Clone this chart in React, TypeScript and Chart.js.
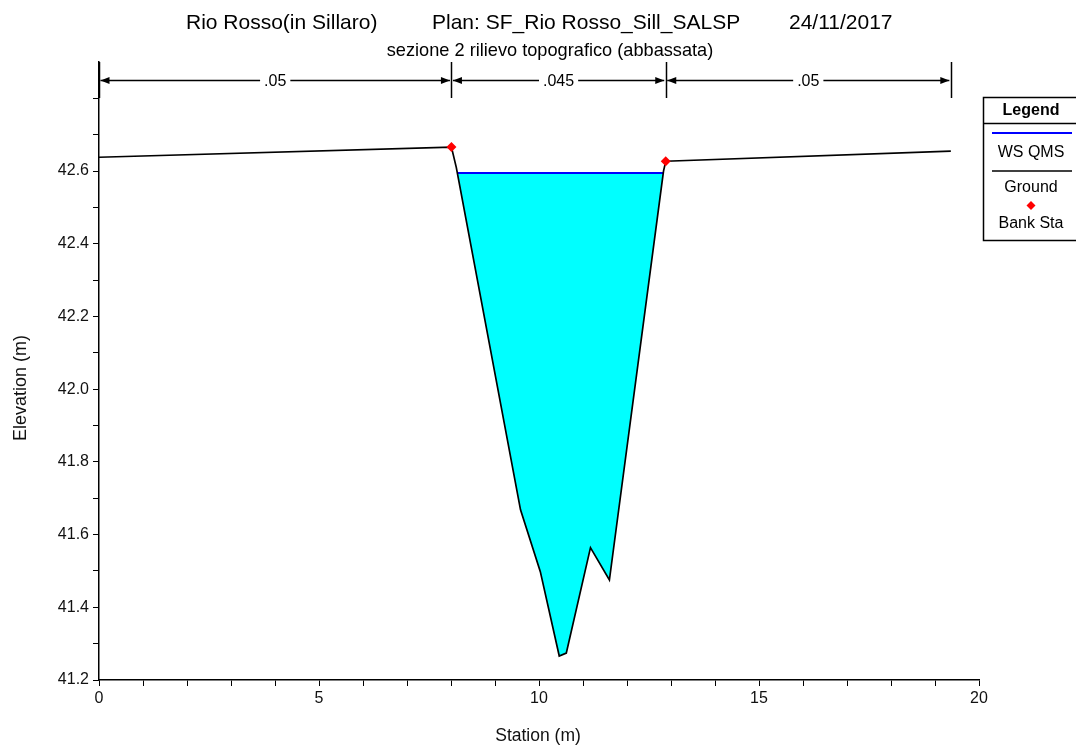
import React, { useEffect, useRef } from 'react';
import { Chart, registerables } from 'chart.js';

Chart.register(...registerables);

// Cross-section ground profile (station m, elevation m)
const groundStation = [0, 8.01, 8.12, 9.58, 10.03, 10.46, 10.62, 11.17, 11.6, 12.83, 12.88, 19.36];
const groundElev = [42.638, 42.666, 42.61, 41.668, 41.498, 41.266, 41.274, 41.564, 41.475, 42.6, 42.627, 42.655];

// Left and right bank stations
const bankStations = [8.01, 12.88];

// Water surface elevation for profile QMS
const wsElev = 42.595;

// Manning's n values for left overbank, channel, right overbank
const nValues = ['.05', '.045', '.05'];

const titleParts = ['Rio Rosso(in Sillaro)', 'Plan: SF_Rio Rosso_Sill_SALSP', '24/11/2017'];
const subtitle = 'sezione 2 rilievo topografico (abbassata)';
const legendLabels = ['WS QMS', 'Ground', 'Bank Sta'];
const xAxisTitle = 'Station (m)';
const yAxisTitle = 'Elevation (m)';

const xMin = 0;
const xMax = 20;
const yMin = 41.2;
const yMax = 42.9;
const yLabelTop = 42.6;

const FONT = "'Liberation Sans', Arial, Helvetica, sans-serif";

function groundAt(s: number): number {
  for (let i = 0; i < groundStation.length - 1; i++) {
    const a = groundStation[i];
    const b = groundStation[i + 1];
    if (s >= a && s <= b) {
      const t = b === a ? 0 : (s - a) / (b - a);
      return groundElev[i] + t * (groundElev[i + 1] - groundElev[i]);
    }
  }
  return groundElev[groundElev.length - 1];
}

// Wetted part of the section: ground below the water surface, closed at the water edges
function wetPolygon() {
  let iMin = 0;
  groundElev.forEach((e, i) => {
    if (e < groundElev[iMin]) iMin = i;
  });
  let l = iMin;
  while (l > 0 && groundElev[l - 1] < wsElev) l--;
  let r = iMin;
  while (r < groundElev.length - 1 && groundElev[r + 1] < wsElev) r++;
  const cross = (a: number, b: number) => {
    const t = (wsElev - groundElev[a]) / (groundElev[b] - groundElev[a]);
    return groundStation[a] + t * (groundStation[b] - groundStation[a]);
  };
  const pts = [{ x: cross(l - 1, l), y: wsElev }];
  for (let i = l; i <= r; i++) pts.push({ x: groundStation[i], y: groundElev[i] });
  pts.push({ x: cross(r, r + 1), y: wsElev });
  return pts;
}

function arrowHead(ctx: CanvasRenderingContext2D, x: number, y: number, dir: number) {
  ctx.beginPath();
  ctx.moveTo(x, y);
  ctx.lineTo(x + dir * 9, y - 3.5);
  ctx.lineTo(x + dir * 9, y + 3.5);
  ctx.closePath();
  ctx.fill();
}

const decorPlugin = {
  id: 'sectionDecor',
  afterDraw(chart: any) {
    const ctx: CanvasRenderingContext2D = chart.ctx;
    const area = chart.chartArea;
    const xs = chart.scales.x;
    ctx.save();
    ctx.fillStyle = '#000';
    ctx.textBaseline = 'alphabetic';

    // Title line
    ctx.font = `21px ${FONT}`;
    ctx.textAlign = 'left';
    const titleX = [186, 432, 789];
    titleParts.forEach((t, i) => ctx.fillText(t, titleX[i], 29));

    // Subtitle
    ctx.font = `18.2px ${FONT}`;
    ctx.textAlign = 'center';
    ctx.fillText(subtitle, 550, 56);

    // Axis titles
    ctx.fillStyle = '#111';
    ctx.font = `17.5px ${FONT}`;
    ctx.textBaseline = 'middle';
    ctx.fillText(xAxisTitle, 538, 736);
    ctx.save();
    ctx.translate(21, 388);
    ctx.rotate(-Math.PI / 2);
    ctx.font = `18px ${FONT}`;
    ctx.fillText(yAxisTitle, 0, 0);
    ctx.restore();
    ctx.fillStyle = '#000';

    // Manning's n brackets
    const bounds = [
      groundStation[0],
      bankStations[0],
      bankStations[1],
      groundStation[groundStation.length - 1],
    ].map((s) => xs.getPixelForValue(s));
    const lineY = area.top + 18.5;
    ctx.strokeStyle = '#000';
    ctx.lineWidth = 1.5;
    bounds.forEach((bx) => {
      ctx.beginPath();
      ctx.moveTo(Math.round(bx) + 0.5, area.top);
      ctx.lineTo(Math.round(bx) + 0.5, area.top + 36);
      ctx.stroke();
    });
    ctx.font = `16px ${FONT}`;
    ctx.textAlign = 'center';
    ctx.textBaseline = 'middle';
    for (let i = 0; i < 3; i++) {
      const a = bounds[i] + 1.5;
      const b = bounds[i + 1] - 1.5;
      const mid = (a + b) / 2;
      const w = ctx.measureText(nValues[i]).width + 8;
      ctx.beginPath();
      ctx.moveTo(a, lineY);
      ctx.lineTo(mid - w / 2, lineY);
      ctx.moveTo(mid + w / 2, lineY);
      ctx.lineTo(b, lineY);
      ctx.stroke();
      arrowHead(ctx, a, lineY, 1);
      arrowHead(ctx, b, lineY, -1);
      ctx.fillText(nValues[i], mid, lineY + 1);
    }

    // Legend box
    const lx = 983.5;
    const ly = 97.5;
    const lw = 120;
    const lh = 143;
    const cx = 1031;
    ctx.fillStyle = '#fff';
    ctx.fillRect(lx, ly, lw, lh);
    ctx.strokeStyle = '#000';
    ctx.lineWidth = 1.5;
    ctx.strokeRect(lx, ly, lw, lh);
    ctx.beginPath();
    ctx.moveTo(lx, 123.5);
    ctx.lineTo(lx + lw, 123.5);
    ctx.stroke();
    ctx.fillStyle = '#000';
    ctx.font = `bold 16px ${FONT}`;
    ctx.textAlign = 'center';
    ctx.textBaseline = 'middle';
    ctx.fillText('Legend', cx, 111);

    ctx.strokeStyle = '#0000ff';
    ctx.lineWidth = 2;
    ctx.beginPath();
    ctx.moveTo(992, 133);
    ctx.lineTo(1072, 133);
    ctx.stroke();
    ctx.font = `16px ${FONT}`;
    ctx.fillText(legendLabels[0], cx, 153);

    ctx.strokeStyle = '#000';
    ctx.lineWidth = 1.5;
    ctx.beginPath();
    ctx.moveTo(992, 171);
    ctx.lineTo(1072, 171);
    ctx.stroke();
    ctx.fillText(legendLabels[1], cx, 188);

    ctx.fillStyle = '#ff0000';
    ctx.beginPath();
    ctx.moveTo(cx, 201);
    ctx.lineTo(cx + 4.5, 205.5);
    ctx.lineTo(cx, 210);
    ctx.lineTo(cx - 4.5, 205.5);
    ctx.closePath();
    ctx.fill();
    ctx.fillStyle = '#000';
    ctx.fillText(legendLabels[2], cx, 224);

    ctx.restore();
  },
};

export default function App() {
  const ref = useRef<HTMLCanvasElement | null>(null);

  useEffect(() => {
    if (!ref.current) return;
    const ground = groundStation.map((s, i) => ({ x: s, y: groundElev[i] }));
    const wet = wetPolygon();
    const wsLine = [wet[0], wet[wet.length - 1]];
    const banks = bankStations.map((s) => ({ x: s, y: groundAt(s) }));
    const tickFont = { family: FONT, size: 16 };

    const chart = new Chart(ref.current, {
      type: 'scatter',
      data: {
        datasets: [
          {
            label: 'Bank Sta',
            data: banks,
            showLine: false,
            pointStyle: 'rectRot',
            pointRadius: 5,
            backgroundColor: '#ff0000',
            borderColor: '#ff0000',
            borderWidth: 0,
            order: 0,
            clip: false,
          },
          {
            label: 'Ground',
            data: ground,
            showLine: true,
            borderColor: '#000',
            borderWidth: 1.7,
            pointRadius: 0,
            fill: false,
            order: 1,
          },
          {
            label: 'WS QMS',
            data: wsLine,
            showLine: true,
            borderColor: '#0000ff',
            borderWidth: 2,
            pointRadius: 0,
            fill: false,
            order: 2,
          },
          {
            label: 'wet',
            data: wet,
            showLine: true,
            borderWidth: 0,
            borderColor: 'rgba(0,0,0,0)',
            backgroundColor: '#00ffff',
            pointRadius: 0,
            fill: { value: wsElev },
            order: 3,
          },
        ],
      },
      options: {
        responsive: false,
        animation: false,
        events: [],
        layout: { padding: { left: 0, top: 62, right: 97, bottom: 0 } },
        plugins: {
          legend: { display: false },
          tooltip: { enabled: false },
          title: { display: false },
        },
        scales: {
          x: {
            type: 'linear',
            min: xMin,
            max: xMax,
            afterFit: (s: any) => {
              s.height = 65;
            },
            ticks: {
              stepSize: 1,
              autoSkip: false,
              maxRotation: 0,
              padding: 3,
              color: '#111',
              font: tickFont,
              callback: (v: any) => (Math.round(v) % 5 === 0 ? String(Math.round(v)) : ''),
            },
            grid: { drawOnChartArea: false, drawTicks: true, tickLength: 6, color: '#000', lineWidth: 1 },
            border: { color: '#000', width: 1.5 },
            title: { display: false },
          },
          y: {
            type: 'linear',
            min: yMin,
            max: yMax,
            afterFit: (s: any) => {
              s.width = 99;
            },
            afterBuildTicks: (s: any) => {
              s.ticks = s.ticks.filter((t: any) => t.value < yMax - 0.05);
            },
            ticks: {
              stepSize: 0.1,
              autoSkip: false,
              padding: 4,
              color: '#111',
              font: tickFont,
              callback: (v: any) => {
                const r = Math.round(v * 10);
                return r % 2 === 0 && v <= yLabelTop + 1e-6 ? (r / 10).toFixed(1) : '';
              },
            },
            grid: { drawOnChartArea: false, drawTicks: true, tickLength: 6, color: '#000', lineWidth: 1 },
            border: { color: '#000', width: 1.5 },
            title: { display: false },
          },
        },
      },
      plugins: [decorPlugin],
    });
    return () => chart.destroy();
  }, []);

  return (
    <div style={{ position: 'absolute', left: 0, top: 0, width: 1076, height: 745, background: '#fff' }}>
      <canvas ref={ref} width={1076} height={745} style={{ display: 'block' }} />
    </div>
  );
}
